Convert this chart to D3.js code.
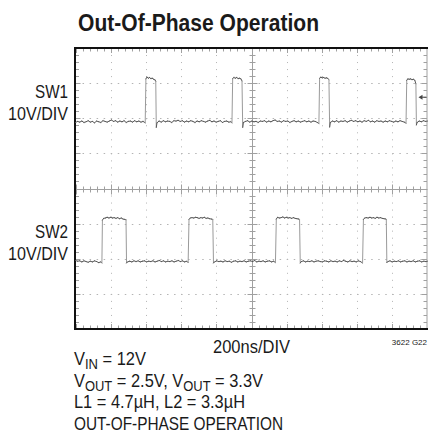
<!DOCTYPE html>
<html>
<head>
<meta charset="utf-8">
<script src="https://d3js.org/d3.v7.min.js"></script>
<style>
  body { margin: 0; background: #fff; }
  svg { display: block; }
  text { font-family: 'Liberation Sans Narrow', 'Arial Narrow', 'Liberation Sans', Arial, sans-serif; font-stretch: condensed; fill: #1a1a1a; }
</style>
</head>
<body>
<script>

  // scope traces, time in ns, volts (10V/DIV)
  var sw1Trace = [
    [0,-0.2],[12,0.1],[24,-0.1],[36,0.2],[48,-0.2],[60,0.0],[72,0.3],[84,-0.1],[96,0.1],[108,-0.3],
    [120,0.2],[132,0.0],[144,-0.2],[156,0.3],[168,0.1],[180,-0.1],[192,0.2],[204,0.5],[216,0.1],[228,0.3],
    [240,-0.1],[252,0.2],[264,0.0],[276,0.3],[288,-0.2],[300,0.1],[312,0.2],[324,-0.1],[336,0.3],[348,0.0],
    [360,0.2],[372,-0.1],[384,0.1],[396,-0.3],
    [400,12.2],[406,12.7],[414,12.4],[420,12.6],[428,12.3],[436,12.4],[444,12.1],[452,11.9],[456,11.5],
    [459,-1.6],[463,-0.3],
    [475,0.2],[487,-0.1],[499,0.3],[511,0.0],[523,0.2],[535,0.1],[547,-0.2],[559,0.3],[571,0.2],[583,0.4],
    [595,0.1],[607,0.3],[619,-0.1],[631,0.2],[643,0.0],[655,0.3],[667,0.1],[679,-0.2],[691,0.2],[703,0.0],
    [715,0.3],[727,0.1],[739,-0.1],[751,0.2],[763,0.4],[775,0.0],[787,0.2],[799,-0.1],[811,0.1],[823,0.3],
    [835,-0.2],[847,0.1],[859,0.2],[871,-0.1],[883,0.0],[889,-0.3],
    [893,12.3],[900,12.6],[908,12.4],[916,12.6],[924,12.3],[932,12.4],[940,12.2],[946,11.6],
    [950,-1.6],[954,-0.2],
    [966,0.1],[978,0.3],[990,-0.1],[1002,0.2],[1014,0.0],[1026,0.1],[1038,-0.2],[1050,0.2],[1062,0.1],[1074,0.3],
    [1086,-0.1],[1098,0.2],[1110,0.0],[1122,0.3],[1134,0.5],[1146,0.1],[1158,0.2],[1170,-0.1],[1182,0.3],[1194,0.1],
    [1206,0.2],[1218,-0.2],[1230,0.1],[1242,0.3],[1254,0.0],[1266,0.2],[1278,-0.1],[1290,0.1],[1302,0.3],[1314,0.0],
    [1326,0.2],[1338,-0.1],[1350,0.2],[1362,0.1],[1374,-0.2],[1383,-0.5],
    [1387,12.4],[1394,12.7],[1402,12.5],[1410,12.6],[1418,12.4],[1426,12.5],[1434,12.3],[1440,12.0],
    [1444,-1.5],[1448,-0.2],
    [1460,0.2],[1472,0.0],[1484,0.3],[1496,-0.1],[1508,0.2],[1520,0.1],[1532,0.3],[1544,-0.1],[1556,0.2],[1568,0.4],
    [1580,0.1],[1592,0.3],[1604,0.0],[1616,0.2],[1628,-0.1],[1640,0.3],[1652,0.1],[1664,0.4],[1676,0.0],[1688,0.2],
    [1700,-0.1],[1712,0.3],[1724,0.1],[1736,0.2],[1748,-0.1],[1760,0.2],[1772,0.0],[1784,0.3],[1796,0.1],[1808,-0.1],
    [1820,0.2],[1832,0.0],[1844,0.3],[1856,0.1],[1868,-0.1],[1878,-0.4],
    [1882,11.8],[1888,12.2],[1896,12.1],[1904,12.2],[1912,12.0],[1920,12.1],[1928,11.8],[1934,10.8],
    [1937,-0.9],[1941,-0.2],
    [1953,0.2],[1965,0.0],[1977,0.3],[1989,0.1],[2000,0.2]
  ];

  var sw2Trace = [
    [0,0.3],[12,0.1],[24,0.2],[36,-0.1],[48,0.2],[60,0.0],[72,-0.2],[84,0.1],[96,-0.1],[108,0.2],
    [120,0.0],[132,-0.3],[144,-0.1],[150,-0.4],
    [153,11.8],[160,12.3],[170,12.4],[180,12.6],[190,12.4],[200,12.6],[210,12.4],[220,12.5],[230,12.3],[240,12.5],
    [250,12.2],[260,12.4],[270,12.1],[280,12.0],[287,11.9],
    [290,-0.4],[296,-0.1],
    [308,0.1],[320,-0.1],[332,0.2],[344,0.0],[356,0.2],[368,-0.1],[380,0.1],[392,0.2],[404,-0.1],[416,0.1],
    [428,0.0],[440,0.2],[452,-0.1],[464,0.1],[476,0.3],[488,0.0],[500,0.2],[512,-0.1],[524,0.1],[536,0.0],
    [548,0.2],[560,-0.1],[572,0.1],[584,0.3],[596,0.0],[608,0.2],[620,-0.1],[632,0.1],[640,-0.3],
    [645,12.0],[652,12.4],[662,12.5],[672,12.4],[682,12.6],[692,12.5],[702,12.3],[712,12.5],[722,12.4],[732,12.6],
    [742,12.3],[752,12.4],[762,12.2],[772,12.1],[780,12.0],
    [784,-0.4],[790,-0.1],
    [802,0.2],[814,0.0],[826,0.1],[838,-0.1],[850,0.2],[862,0.0],[874,0.1],[886,-0.2],[898,0.1],[910,0.2],
    [922,-0.1],[934,0.1],[946,0.0],[958,0.2],[970,-0.1],[982,0.1],[994,0.2],[1006,0.0],[1018,0.3],[1030,-0.1],
    [1042,0.1],[1054,0.0],[1066,0.2],[1078,-0.1],[1090,0.1],[1102,0.2],[1114,-0.1],[1126,0.1],[1136,-0.3],
    [1141,12.1],[1148,12.6],[1158,12.4],[1168,12.5],[1178,12.7],[1188,12.4],[1198,12.6],[1208,12.4],[1218,12.5],[1228,12.3],
    [1238,12.5],[1248,12.3],[1258,12.2],[1268,12.1],[1273,12.0],
    [1277,-0.4],[1283,0.0],
    [1295,0.2],[1307,-0.1],[1319,0.1],[1331,0.0],[1343,0.2],[1355,-0.1],[1367,0.1],[1379,0.2],[1391,0.0],[1403,-0.1],
    [1415,0.2],[1427,0.1],[1439,-0.1],[1451,0.2],[1463,0.0],[1475,0.1],[1487,-0.1],[1499,0.2],[1511,0.0],[1523,0.3],
    [1535,0.1],[1547,-0.1],[1559,0.2],[1571,0.0],[1583,0.1],[1595,-0.1],[1607,0.2],[1619,0.0],[1631,-0.4],
    [1636,12.0],[1643,12.4],[1653,12.5],[1663,12.4],[1673,12.6],[1683,12.4],[1693,12.5],[1703,12.3],[1713,12.6],[1723,12.4],
    [1733,12.5],[1743,12.3],[1753,12.2],[1763,12.1],[1766,12.0],
    [1769,-0.3],[1775,0.0],
    [1787,0.2],[1799,-0.1],[1811,0.1],[1823,0.0],[1835,0.2],[1847,-0.1],[1859,0.1],[1871,0.2],[1883,-0.1],[1895,0.1],
    [1907,0.0],[1919,0.2],[1931,-0.1],[1943,0.1],[1955,0.2],[1967,-0.1],[1979,0.1],[1991,0.0],[2000,0.1]
  ];

  // ground position of each channel, in divisions from screen centre
  var channels = [
    { name: "SW1", scale: "10V/DIV", ground: 1.9, trace: sw1Trace },
    { name: "SW2", scale: "10V/DIV", ground: -2.08, trace: sw2Trace }
  ];

  var timeDiv = 200;   // ns per division
  var xDivs = 10, yDivs = 8;

  var conditions = [
    [["V",""],["IN","sub"],[" = 12V",""]],
    [["V",""],["OUT","sub"],[" = 2.5V, V",""],["OUT","sub"],[" = 3.3V",""]],
    [["L1 = 4.7µH, L2 = 3.3µH",""]],
    [["OUT-OF-PHASE OPERATION",""]]
  ];
  var conditionWidths = [72, 189, 171, 209];

  var W = 428, H = 433;
  var plotL = 75.5, plotR = 427.5, plotT = 48, plotB = 329;

  var svg = d3.select("body").append("svg")
    .attr("width", W)
    .attr("height", H);

  var x = d3.scaleLinear().domain([0, xDivs * timeDiv]).range([plotL, plotR]);
  var y = d3.scaleLinear().domain([-yDivs / 2, yDivs / 2]).range([plotB, plotT]);

  var gridColor = "#a0a0a0";
  var dotColor = "#b4b4b4";
  var xMinor = d3.range(0, xDivs * timeDiv + 1, timeDiv / 5);
  var yMinor = d3.range(-20, 21).map(function(d) { return d / 5; });
  var xMajor = d3.range(1, xDivs).map(function(d) { return d * timeDiv; });
  var yMajor = d3.range(-3, 4);

  var grid = svg.append("g");

  // dotted graticule
  grid.selectAll(".vgrid")
    .data(xMajor.filter(function(d) { return d !== 1000; }))
    .enter().append("line")
      .attr("x1", function(d) { return Math.round(x(d)) + 0.5; })
      .attr("x2", function(d) { return Math.round(x(d)) + 0.5; })
      .attr("y1", plotT).attr("y2", plotB)
      .attr("stroke", dotColor)
      .attr("stroke-dasharray", "1," + (y(0) - y(0.2) - 1));

  grid.selectAll(".hgrid")
    .data(yMajor.filter(function(d) { return d !== 0; }))
    .enter().append("line")
      .attr("y1", function(d) { return Math.round(y(d)) + 0.5; })
      .attr("y2", function(d) { return Math.round(y(d)) + 0.5; })
      .attr("x1", plotL).attr("x2", plotR)
      .attr("stroke", dotColor)
      .attr("stroke-dasharray", "1.5," + (x(40) - x(0) - 1.5));

  // centre cross
  var cx = Math.round(x(1000)) + 0.5, cy = Math.round(y(0)) + 0.5;
  grid.append("line").attr("x1", cx).attr("x2", cx).attr("y1", plotT).attr("y2", plotB).attr("stroke", gridColor);
  grid.append("line").attr("x1", plotL).attr("x2", plotR).attr("y1", cy).attr("y2", cy).attr("stroke", gridColor);

  function isMajorX(d) { return d % timeDiv === 0; }
  function isMajorY(d) { return Math.abs(d - Math.round(d)) < 1e-6; }

  grid.selectAll(".cxt").data(xMinor).enter().append("line")
    .attr("x1", function(d) { return Math.round(x(d)) + 0.5; })
    .attr("x2", function(d) { return Math.round(x(d)) + 0.5; })
    .attr("y1", function(d) { return cy - (isMajorX(d) ? 5 : 3); })
    .attr("y2", function(d) { return cy + (isMajorX(d) ? 5 : 3); })
    .attr("stroke", gridColor);

  grid.selectAll(".cyt").data(yMinor).enter().append("line")
    .attr("y1", function(d) { return Math.round(y(d)) + 0.5; })
    .attr("y2", function(d) { return Math.round(y(d)) + 0.5; })
    .attr("x1", function(d) { return cx - (isMajorY(d) ? 5 : 3); })
    .attr("x2", function(d) { return cx + (isMajorY(d) ? 5 : 3); })
    .attr("stroke", gridColor);

  // border ticks
  [[plotT, 1], [plotB, -1]].forEach(function(b) {
    grid.append("g").selectAll("line").data(xMinor).enter().append("line")
      .attr("x1", function(d) { return Math.round(x(d)) + 0.5; })
      .attr("x2", function(d) { return Math.round(x(d)) + 0.5; })
      .attr("y1", b[0])
      .attr("y2", function(d) { return b[0] + b[1] * (isMajorX(d) ? 5 : 3.5); })
      .attr("stroke", gridColor);
  });
  [[plotL, 1], [plotR - 0.5, -1]].forEach(function(b) {
    grid.append("g").selectAll("line").data(yMinor).enter().append("line")
      .attr("y1", function(d) { return Math.round(y(d)) + 0.5; })
      .attr("y2", function(d) { return Math.round(y(d)) + 0.5; })
      .attr("x1", b[0])
      .attr("x2", function(d) { return b[0] + b[1] * (isMajorY(d) ? 5 : 3.5); })
      .attr("stroke", gridColor);
  });
  grid.append("line").attr("x1", plotR - 0.5).attr("x2", plotR - 0.5)
    .attr("y1", plotT).attr("y2", plotB).attr("stroke", gridColor);

  // frame
  svg.append("path")
    .attr("d", "M" + (plotR + 1) + "," + plotT + "H" + (plotL - 0.5) + "V" + plotB + "H" + (plotR + 1))
    .attr("fill", "none")
    .attr("stroke", "#111")
    .attr("stroke-width", 2);

  // traces: slow parts dark, fast edges faint like a real scope
  channels.forEach(function(ch) {
    var pts = ch.trace.map(function(p) { return [x(p[0]), y(ch.ground + p[1] / 10)]; });
    var segs = d3.pairs(pts);
    var steep = d3.pairs(ch.trace).map(function(p) { return Math.abs(p[1][1] - p[0][1]) > 4; });
    svg.append("g").selectAll("line")
      .data(segs)
      .enter().append("line")
        .attr("x1", function(d) { return d[0][0]; })
        .attr("y1", function(d) { return d[0][1]; })
        .attr("x2", function(d) { return d[1][0]; })
        .attr("y2", function(d) { return d[1][1]; })
        .attr("stroke", function(d, i) { return steep[i] ? "#9a9a9a" : "#585858"; })
        .attr("stroke-width", 1)
        .attr("stroke-linecap", "round");
  });

  // trigger level marker
  var trigY = y(channels[0].ground + 7 / 10);
  svg.append("path")
    .attr("d", "M" + (plotR - 1) + "," + trigY + "H" + (plotR - 7))
    .attr("stroke", "#444").attr("stroke-width", 1);
  svg.append("path")
    .attr("d", "M" + (plotR - 9) + "," + trigY + "l4,-2.5v5z")
    .attr("fill", "#444");

  // channel labels
  channels.forEach(function(ch) {
    var gy = y(ch.ground);
    svg.append("text")
      .attr("x", 68).attr("y", gy - 24)
      .attr("text-anchor", "end")
      .attr("font-size", 19)
      .attr("textLength", 33).attr("lengthAdjust", "spacingAndGlyphs")
      .text(ch.name);
    svg.append("text")
      .attr("x", 68).attr("y", gy - 2)
      .attr("text-anchor", "end")
      .attr("font-size", 19)
      .attr("textLength", 60).attr("lengthAdjust", "spacingAndGlyphs")
      .text(ch.scale);
  });

  // title
  svg.append("text")
    .attr("x", 78).attr("y", 31)
    .attr("font-size", 24)
    .attr("font-weight", "bold")
    .attr("textLength", 241).attr("lengthAdjust", "spacingAndGlyphs")
    .text("Out-Of-Phase Operation");

  svg.append("text")
    .attr("x", 213).attr("y", 353)
    .attr("font-size", 19)
    .attr("textLength", 77).attr("lengthAdjust", "spacingAndGlyphs")
    .text(timeDiv + "ns/DIV");

  svg.append("text")
    .attr("x", 427).attr("y", 345)
    .attr("text-anchor", "end")
    .attr("font-size", 8)
    .text("3622 G22");

  conditions.forEach(function(line, i) {
    var t = svg.append("text")
      .attr("x", 74).attr("y", 365 + i * 21.7)
      .attr("font-size", 19)
      .attr("textLength", conditionWidths[i]).attr("lengthAdjust", "spacingAndGlyphs");
    var shifted = false;
    line.forEach(function(part) {
      var sp = t.append("tspan").text(part[0]);
      if (part[1] === "sub") {
        sp.attr("font-size", 15).attr("dy", shifted ? 0 : 4);
        shifted = true;
      } else if (shifted) {
        sp.attr("dy", -4);
        shifted = false;
      }
    });
  });

</script>
</body>
</html>
